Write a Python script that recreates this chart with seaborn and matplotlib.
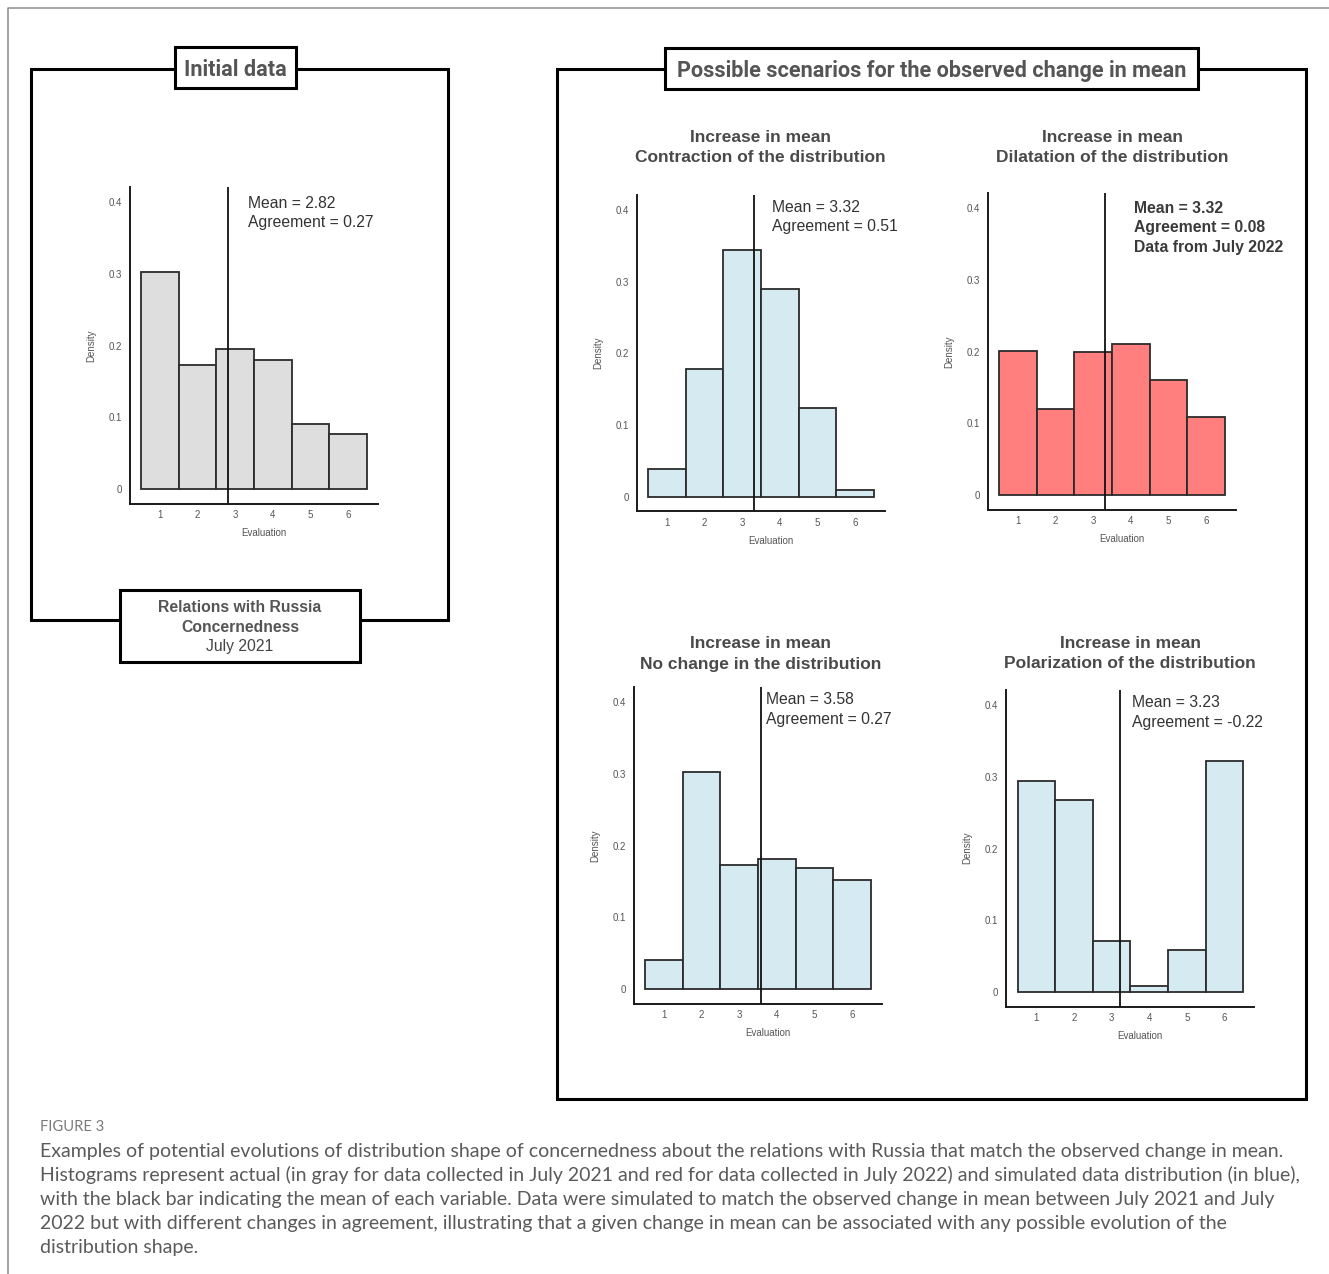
import numpy as np
import pandas as pd
import matplotlib
matplotlib.use("Agg")
import matplotlib.pyplot as plt
import seaborn as sns
from matplotlib.patches import Rectangle

sns.set_theme(style="white")
plt.rcParams['font.family'] = ['Liberation Sans', 'DejaVu Sans']

W, H, DPI = 1329, 1274, 100

# ---- data -----------------------------------------------------------------
evaluation = [1, 2, 3, 4, 5, 6]
initial_density = [0.303, 0.173, 0.195, 0.180, 0.091, 0.076]
contraction_density = [0.038, 0.178, 0.344, 0.290, 0.124, 0.010]
dilatation_density = [0.201, 0.120, 0.200, 0.211, 0.161, 0.109]
no_change_density = [0.040, 0.303, 0.173, 0.181, 0.169, 0.152]
polarization_density = [0.294, 0.267, 0.071, 0.008, 0.058, 0.322]

panel_means = [2.82, 3.32, 3.32, 3.58, 3.23]
panel_agreements = ["0.27", "0.51", "0.08", "0.27", "-0.22"]
panel_titles = [
    None,
    ("Increase in mean", "Contraction of the distribution"),
    ("Increase in mean", "Dilatation of the distribution"),
    ("Increase in mean", "No change in the distribution"),
    ("Increase in mean", "Polarization of the distribution"),
]
y_ticks = [0, 0.1, 0.2, 0.3, 0.4]
y_tick_labels = ["0", "0.1", "0.2", "0.3", "0.4"]

caption_head = "FIGURE 3"
caption_lines = [
    "Examples of potential evolutions of distribution shape of concernedness about the relations with Russia that match the observed change in mean.",
    "Histograms represent actual (in gray for data collected in July 2021 and red for data collected in July 2022) and simulated data distribution (in blue),",
    "with the black bar indicating the mean of each variable. Data were simulated to match the observed change in mean between July 2021 and July",
    "2022 but with different changes in agreement, illustrating that a given change in mean can be associated with any possible evolution of the",
    "distribution shape.",
]

GRAY = "#dedede"
BLUE = "#d6eaf1"
RED = "#ff7f7f"

fig = plt.figure(figsize=(W / DPI, H / DPI), dpi=DPI)
fig.patch.set_facecolor("white")


def px_rect(left, top, width, height):
    return [left / W, 1 - (top + height) / H, width / W, height / H]


# overlay in pixel coordinates for frames and free text
base = fig.add_axes([0, 0, 1, 1], zorder=0)
base.set_xlim(0, W)
base.set_ylim(H, 0)
base.axis("off")

FRAME_LW = 2.2


def frame(x, y, w, h, fill=False):
    base.add_patch(Rectangle((x, y), w, h, fill=fill, facecolor="white",
                             edgecolor="black", lw=FRAME_LW, zorder=3 if fill else 2))


# outer gray page border (top and left)
base.plot([8, 8, W], [H, 8, 8], color="#8c8c8c", lw=1.1, zorder=1)

# left group
frame(31, 69, 417, 551)
frame(175, 47, 121, 41, fill=True)
base.text(235.5, 70, "Initial data", ha="center", va="center", fontsize=15.6,
          fontweight="bold", family=["Roboto", "DejaVu Sans"], color="#555555", zorder=4)
frame(120, 590, 240, 72, fill=True)
base.text(240, 608, "Relations with Russia", ha="center", va="center", fontsize=11.3,
          fontweight="bold", color="#555555", zorder=4)
base.text(240, 627, "Concernedness", ha="center", va="center", fontsize=11.3,
          fontweight="bold", color="#555555", zorder=4)
base.text(240, 646, "July 2021", ha="center", va="center", fontsize=11.3,
          color="#444444", zorder=4)

# right group
frame(557, 69, 749, 1030)
frame(665, 48, 533, 41, fill=True)
base.text(931.5, 71, "Possible scenarios for the observed change in mean", ha="center",
          va="center", fontsize=15.6, fontweight="bold", family=["Roboto", "DejaVu Sans"],
          color="#555555", zorder=4)

# caption
base.text(40, 1127, caption_head, ha="left", va="center", fontsize=10.6,
          family=["Lato", "DejaVu Sans"], color="#7a7a7a")
for i, line in enumerate(caption_lines):
    base.text(40, 1151 + i * 24, line, ha="left", va="center", fontsize=14.0,
              family=["Lato", "DejaVu Sans"], color="#5a5a5a")

# ---- histogram panels -------------------------------------------------------
panels = [
    dict(dens=initial_density, color=GRAY, pos=(130, 187),
         note=(247.7, 203), title_c=None, bold=False),
    dict(dens=contraction_density, color=BLUE, pos=(637, 194.7),
         note=(771.7, 207.3), title_c=(760, 136), bold=False),
    dict(dens=dilatation_density, color=RED, pos=(988, 193),
         note=(1134.3, 208.3), title_c=(1112, 136), bold=True),
    dict(dens=no_change_density, color=BLUE, pos=(634, 687),
         note=(765.7, 700), title_c=(761, 642), bold=False),
    dict(dens=polarization_density, color=BLUE, pos=(1006.4, 690),
         note=(1131.7, 702.7), title_c=(1130, 642), bold=False),
]

for k, p in enumerate(panels):
    left, top = p["pos"]
    ax = fig.add_axes(px_rect(left, top, 248, 316.5), zorder=2)
    ax.patch.set_alpha(0)
    df = pd.DataFrame({"Evaluation": evaluation, "Density": p["dens"]})
    sns.histplot(data=df, x="Evaluation", weights="Density", discrete=True,
                 ax=ax, color=p["color"], alpha=1,
                 edgecolor="#2b2b2b", linewidth=1.3)
    ax.set_xlim(0.2, 6.8)
    ax.set_ylim(-0.0202, 0.421)
    ax.axvline(panel_means[k], color="#111111", lw=1.3)
    ax.set_xticks(evaluation)
    ax.set_yticks(y_ticks)
    ax.set_yticklabels(y_tick_labels)
    ax.tick_params(axis="y", length=0, labelsize=7, colors="#555555", pad=6)
    ax.tick_params(axis="x", length=0, labelsize=7, colors="#555555", pad=5)
    ax.set_xlabel("Evaluation", fontsize=7, color="#555555")
    ax.xaxis.set_label_coords(0.54, -0.078)
    ax.set_ylabel("Density", fontsize=7, color="#555555", labelpad=9)
    for s in ("top", "right"):
        ax.spines[s].set_visible(False)
    for s in ("left", "bottom"):
        ax.spines[s].set_color("#1a1a1a")
        ax.spines[s].set_linewidth(1.4)
    ax.grid(False)

    nx, ny = p["note"]
    weight = "bold" if p["bold"] else "normal"
    note_lines = [f"Mean = {panel_means[k]:.2f}", f"Agreement = {panel_agreements[k]}"]
    if p["bold"]:
        note_lines.append("Data from July 2022")
    for j, t in enumerate(note_lines):
        base.text(nx, ny + j * 19.5, t, ha="left", va="center", fontsize=11.3,
                  fontweight=weight, color="#333333" if not p["bold"] else "#3a3a3a",
                  zorder=4)

    if p["title_c"] is not None:
        cx, cy = p["title_c"]
        l1, l2 = panel_titles[k]
        base.text(cx, cy + 1.5, l1, ha="center", va="center", fontsize=12.5,
                  fontweight="bold", color="#4a4a4a")
        base.text(cx, cy + 22, l2, ha="center", va="center", fontsize=12.5,
                  fontweight="bold", color="#4a4a4a")

fig.savefig("out.png", dpi=DPI)
